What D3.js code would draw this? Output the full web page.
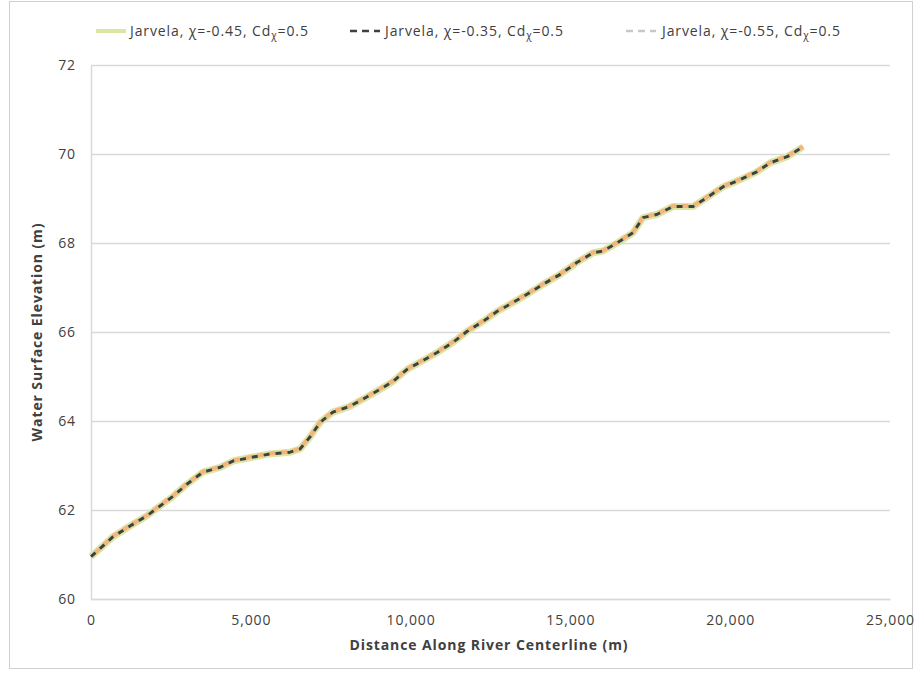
<!DOCTYPE html>
<html><head><meta charset="utf-8">
<script src="https://cdn.jsdelivr.net/npm/d3@7"></script>
<style>body{margin:0;background:#fff}svg{display:block}</style>
</head><body><div id="c"></div>
<script>
const distance = [0,280,690,1220,1750,2160,2570,3000,3500,4040,4440,5070,5600,6230,6540,6850,7170,7570,8100,8510,9040,9450,9890,10290,10830,11330,11760,12270,12700,13200,13740,14140,14670,15200,15710,16020,16460,16960,17270,17700,18210,18840,19270,19770,20300,20830,21250,21780,22280];
const elevA = [60.95,61.13,61.40,61.64,61.87,62.09,62.31,62.58,62.85,62.96,63.10,63.19,63.26,63.30,63.37,63.64,63.97,64.20,64.33,64.49,64.71,64.89,65.16,65.32,65.54,65.77,66.01,66.24,66.46,66.66,66.89,67.07,67.29,67.56,67.78,67.82,68.00,68.23,68.57,68.64,68.82,68.82,69.02,69.26,69.42,69.60,69.80,69.94,70.16];
const elevB = [60.95,61.13,61.40,61.64,61.87,62.09,62.31,62.58,62.85,62.96,63.10,63.19,63.26,63.30,63.37,63.64,63.97,64.20,64.33,64.49,64.71,64.89,65.16,65.32,65.54,65.77,66.01,66.24,66.46,66.66,66.89,67.07,67.29,67.56,67.78,67.82,68.00,68.23,68.57,68.64,68.82,68.82,69.02,69.26,69.42,69.60,69.80,69.94,70.16];
const elevC = [60.95,61.14,61.41,61.65,61.88,62.10,62.32,62.59,62.86,62.97,63.11,63.20,63.27,63.31,63.38,63.65,63.98,64.21,64.34,64.50,64.72,64.90,65.17,65.33,65.55,65.78,66.02,66.25,66.47,66.67,66.90,67.08,67.30,67.57,67.79,67.83,68.01,68.24,68.58,68.65,68.83,68.83,69.03,69.27,69.43,69.61,69.81,69.95,70.17];
const seriesNames = ["Jarvela, χ=-0.45, Cd", "Jarvela, χ=-0.35, Cd", "Jarvela, χ=-0.55, Cd"];
const xTicks = [0,5000,10000,15000,20000,25000];
const yTicks = [60,62,64,66,68,70,72];

const W=923,H=675;
const svg=d3.select("#c").append("svg").attr("width",W).attr("height",H);
const font="'Open Sans', sans-serif";
const LS=0.9;
svg.append("rect").attr("x",9.5).attr("y",1.5).attr("width",903).attr("height",667).attr("fill","#fff").attr("stroke","#d0d0d0");

const x=d3.scaleLinear().domain([0,25000]).range([91,890]);
const y=d3.scaleLinear().domain([60,72]).range([599,65]);

const gy=svg.append("g").attr("transform","translate(91,0)")
  .call(d3.axisLeft(y).tickValues(yTicks).tickSize(-(890-91)).tickFormat(""));
gy.select(".domain").remove();
gy.selectAll("line").attr("stroke","#d9d9d9").attr("stroke-width",1.5);

const ya=svg.append("g").attr("transform","translate(91,0)")
  .call(d3.axisLeft(y).tickValues(yTicks).tickSize(0).tickPadding(15).tickFormat(d3.format("d")));
ya.select(".domain").attr("stroke","#d9d9d9").attr("stroke-width",1.5);
ya.selectAll("text").attr("font-family",font).attr("font-size",14).attr("letter-spacing",LS).attr("fill","#404040");

const xa=svg.append("g").attr("transform","translate(0,599)")
  .call(d3.axisBottom(x).tickValues(xTicks).tickSize(0).tickPadding(16).tickFormat(d3.format(",")));
xa.select(".domain").attr("stroke","#d9d9d9").attr("stroke-width",1.5);
xa.selectAll("text").attr("font-family",font).attr("font-size",14).attr("letter-spacing",LS).attr("fill","#404040");

svg.append("text").attr("x",489).attr("y",650).attr("text-anchor","middle")
  .attr("font-family",font).attr("font-weight","bold").attr("font-size",14).attr("letter-spacing",LS).attr("fill","#404040")
  .text("Distance Along River Centerline (m)");
svg.append("text").attr("transform","translate(42,332) rotate(-90)").attr("text-anchor","middle")
  .attr("font-family",font).attr("font-weight","bold").attr("font-size",14).attr("letter-spacing",LS).attr("fill","#404040")
  .text("Water Surface Elevation (m)");

const line=d3.line().x((d,i)=>x(distance[i])).y(d=>y(d));
const styles=[
  {c:"#dce6a4",w:7,dash:null,off:0},
  {c:"#404040",w:3,dash:"6,6",off:0},
  {c:"#f5b47c",w:4,dash:"6,6",off:6}
];
const data=[elevA,elevB,elevC];
[0,2,1].forEach(k=>{
  svg.append("path").datum(data[k]).attr("d",line).attr("fill","none")
    .attr("stroke",styles[k].c).attr("stroke-width",styles[k].w)
    .attr("stroke-dasharray",styles[k].dash).attr("stroke-dashoffset",styles[k].off)
    .attr("stroke-linejoin","round");
});

const leg=[{x:96,tx:130},{x:350,tx:385},{x:626,tx:662}];
const legStyles=[{c:"#dce6a4",w:4,dash:null},{c:"#404040",w:2.5,dash:"7,5"},{c:"#c8c8c8",w:2.5,dash:"7,5"}];
leg.forEach((p,i)=>{
  svg.append("line").attr("x1",p.x).attr("x2",p.x+30).attr("y1",31).attr("y2",31)
    .attr("stroke",legStyles[i].c).attr("stroke-width",legStyles[i].w).attr("stroke-dasharray",legStyles[i].dash);
  const t=svg.append("text").attr("x",p.tx).attr("y",36).attr("font-family",font).attr("font-size",14).attr("letter-spacing",LS).attr("fill","#404040");
  t.append("tspan").text(seriesNames[i]);
  t.append("tspan").attr("font-size",10).attr("dy",3).text("χ");
  t.append("tspan").attr("dy",-3).text("=0.5");
});
</script></body></html>
